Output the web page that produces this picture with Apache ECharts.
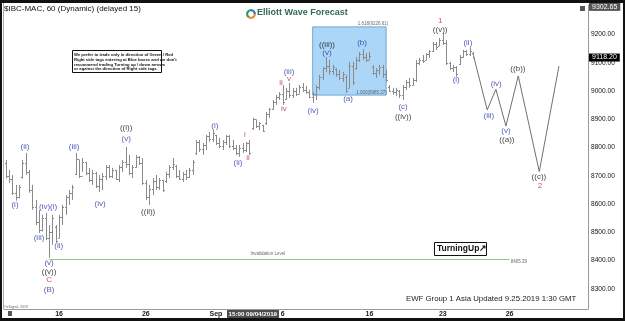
<!DOCTYPE html>
<html>
<head>
<meta charset="utf-8">
<script src="https://cdn.jsdelivr.net/npm/echarts@6/dist/echarts.min.js"></script>
<style>
html, body { margin: 0; padding: 0; background: #fff; }
#chart { width: 625px; height: 321px; }
</style>
</head>
<body>
<div id="chart"></div>
<script>
// hourly bars, index 0 = first bar on the left
const opens = [8745, 8700, 8690, 8640, 8625, 8695, 8745, 8715, 8650, 8590, 8535, 8510, 8550, 8480, 8500, 8520, 8480, 8555, 8590, 8625,
  8640, 8705, 8760, 8700, 8750, 8710, 8685, 8710, 8665, 8690, 8700, 8730, 8700, 8720, 8690, 8730, 8750, 8740, 8710, 8730,
  8765, 8745, 8675, 8625, 8655, 8680, 8660, 8685, 8680, 8705, 8730, 8735, 8700, 8690, 8705, 8695, 8720, 8780, 8820, 8795,
  8810, 8840, 8830, 8845, 8815, 8805, 8820, 8840, 8805, 8800, 8780, 8800, 8790, 8815, 8870, 8900, 8875, 8880, 8885, 8920,
  8935, 8960, 8980, 8990, 8970, 9000, 8985, 9000, 8990, 9015, 9005, 8995, 8980, 8990, 9015, 9050, 9080, 9090, 9070, 9078,
  9060, 9045, 9050, 9010, 9090, 9080, 9110, 9130, 9120, 9110, 9085, 9065, 9075, 9085, 9060, 9015, 9000, 8995, 9000, 8985,
  9015, 9030, 9020, 9040, 9100, 9110, 9110, 9130, 9140, 9165, 9160, 9180, 9170, 9100, 9080, 9085, 9095, 9120, 9140, 9130, 9135]
const highs = [8756, 8721, 8703, 8668, 8668, 8756, 8781, 8721, 8668, 8615, 8579, 8562, 8569, 8526, 8562, 8526, 8562, 8597, 8632, 8650,
  8668, 8781, 8756, 8763, 8749, 8728, 8721, 8714, 8703, 8710, 8738, 8738, 8728, 8721, 8738, 8756, 8802, 8774, 8738, 8774,
  8770, 8763, 8685, 8668, 8692, 8703, 8692, 8685, 8714, 8738, 8763, 8738, 8721, 8714, 8721, 8728, 8756, 8827, 8827, 8816,
  8845, 8855, 8862, 8845, 8834, 8827, 8845, 8845, 8827, 8809, 8809, 8816, 8820, 8827, 8905, 8898, 8890, 8880, 8926, 8940,
  8968, 8986, 8996, 9021, 9011, 9028, 9011, 9011, 9021, 9028, 9018, 9004, 8996, 9021, 9057, 9085, 9120, 9110, 9092, 9081,
  9074, 9067, 9057, 9103, 9103, 9120, 9138, 9148, 9134, 9138, 9092, 9081, 9092, 9092, 9074, 9021, 9011, 9011, 9004, 9021,
  9039, 9046, 9046, 9110, 9117, 9127, 9134, 9145, 9173, 9173, 9187, 9205, 9180, 9103, 9092, 9088, 9127, 9145, 9145, 9155, 9138]
const lows = [8690, 8675, 8632, 8612, 8620, 8690, 8703, 8640, 8580, 8526, 8498, 8503, 8473, 8410, 8456, 8463, 8480, 8526, 8562, 8597,
  8615, 8703, 8692, 8714, 8703, 8678, 8668, 8657, 8643, 8650, 8685, 8692, 8692, 8685, 8678, 8714, 8728, 8703, 8692, 8728,
  8738, 8668, 8615, 8597, 8632, 8650, 8650, 8643, 8675, 8692, 8721, 8692, 8685, 8678, 8685, 8692, 8703, 8774, 8784, 8774,
  8791, 8820, 8820, 8809, 8798, 8791, 8809, 8798, 8791, 8774, 8767, 8781, 8784, 8774, 8862, 8869, 8862, 8855, 8880, 8905,
  8933, 8951, 8968, 8951, 8968, 8975, 8975, 8982, 8990, 8996, 8990, 8975, 8958, 8968, 9004, 9039, 9067, 9057, 9057, 9050,
  9039, 9032, 8993, 9010, 9021, 9074, 9103, 9110, 9103, 9110, 9057, 9046, 9057, 9046, 9032, 8996, 8986, 8982, 8975, 8968,
  9004, 9011, 9018, 9032, 9092, 9099, 9110, 9117, 9138, 9145, 9159, 9163, 9092, 9074, 9067, 9050, 9092, 9117, 9124, 9124, 9117]
const closes = [8700, 8690, 8640, 8625, 8660, 8745, 8715, 8650, 8590, 8535, 8510, 8550, 8480, 8500, 8550, 8470, 8555, 8590, 8625, 8640,
  8660, 8760, 8700, 8750, 8710, 8685, 8710, 8665, 8690, 8700, 8730, 8700, 8720, 8690, 8730, 8750, 8740, 8710, 8730, 8765,
  8745, 8675, 8625, 8655, 8680, 8660, 8685, 8650, 8705, 8730, 8740, 8700, 8690, 8705, 8695, 8720, 8750, 8820, 8795, 8810,
  8840, 8830, 8850, 8815, 8805, 8820, 8840, 8805, 8800, 8780, 8800, 8790, 8815, 8780, 8900, 8875, 8885, 8860, 8920, 8935,
  8960, 8980, 8990, 8960, 9000, 8985, 9000, 8990, 9015, 9005, 8995, 8980, 8990, 9015, 9050, 9080, 9090, 9070, 9085, 9060,
  9045, 9060, 9000, 9090, 9030, 9110, 9130, 9120, 9110, 9125, 9065, 9075, 9085, 9060, 9040, 9000, 8995, 9005, 8985, 9015,
  9030, 9020, 9040, 9100, 9110, 9105, 9130, 9140, 9165, 9155, 9180, 9170, 9100, 9080, 9085, 9060, 9120, 9140, 9130, 9140, 9118.2]

const tickIdx = [16, 42, 63, 83, 109, 131, 151]
const tickText = ['16', '26', 'Sep', '6', '16', '23', '26']
const priceTicks = [8300, 8400, 8500, 8600, 8700, 8800, 8900, 9000, 9100, 9200]

// projected path after the last bar
const pathIdx = [140, 144.3, 146.9, 149.9, 153.6, 159.9, 165.8]
const pathVal = [9134, 8933, 9006, 8876, 9053, 8715, 9088]

const invalidation = 8405.39
const lastPrice = 9118.20
const axisHigh = 9302.65
const boxLow = 8985.37
const boxHigh = 9226.61

const BLUE = '#2633a8', RED = '#c4262a', BLACK = '#111'
const waveLabels = [
  [2.8, 8597, '(i)', BLUE], [5.8, 8802, '(ii)', BLUE], [10.0, 8480, '(iii)', BLUE],
  [12.7, 8590, '(iv)(i)', BLUE], [15.9, 8452, '(ii)', BLUE], [13.0, 8392, '(v)', BLUE],
  [13.0, 8362, '((v))', BLACK], [13.0, 8331, 'C', RED], [13.0, 8298, '(B)', BLUE],
  [20.5, 8802, '(iii)', BLUE], [28.3, 8601, '(iv)', BLUE], [36.1, 8869, '((i))', BLACK],
  [36.1, 8832, '(v)', BLUE], [42.7, 8572, '((ii))', BLACK], [62.7, 8876, '(i)', BLUE],
  [69.6, 8746, '(ii)', BLUE], [71.7, 8845, 'i', RED], [72.6, 8763, 'ii', RED],
  [82.5, 9028, 'ii', RED], [84.9, 9042, 'v', RED], [84.9, 9067, '(iii)', BLUE],
  [83.4, 8936, 'iv', RED], [92.1, 8929, '(iv)', BLUE], [96.3, 9163, '((iii))', BLACK],
  [96.3, 9134, '(v)', BLUE], [102.6, 8972, '(a)', BLUE], [106.8, 9170, '(b)', BLUE],
  [119.1, 8943, '(c)', BLUE], [119.1, 8908, '((iv))', BLACK], [130.2, 9247, '1', RED],
  [130.2, 9216, '((v))', BLACK], [135.0, 9039, '(i)', BLUE], [138.5, 9170, '(ii)', BLUE],
  [144.8, 8912, '(iii)', BLUE], [147.0, 9025, '(iv)', BLUE], [149.9, 8859, '(v)', BLUE],
  [150.2, 8827, '((a))', BLACK], [153.5, 9078, '((b))', BLACK], [159.8, 8696, '((c))', BLACK],
  [160.1, 8664, '2', RED]
]
const smallNotes = [
  [110.1, 9237, '1.618(9226.61)'], [109.6, 8993, '1.000(8985.37)'],
  [78.6, 8424, 'Invalidation Level'], [153.8, 8396, '8405.39']
]

const bars = opens.map((o, i) => [i, o, highs[i], lows[i], closes[i]])

const chart = echarts.init(document.getElementById('chart'))
window.addEventListener('resize', () => chart.resize())

const renderBar = (params, api) => {
  const i = api.value(0)
  const h = api.coord([i, api.value(2)])
  const l = api.coord([i, api.value(3)])
  const o = api.coord([i, api.value(1)])
  const c = api.coord([i, api.value(4)])
  const px = Math.round(h[0]) + 0.5
  const style = { stroke: '#8a8a8a', lineWidth: 1 }
  return {
    type: 'group',
    children: [
      { type: 'line', shape: { x1: px, y1: h[1], x2: px, y2: l[1] }, style },
      { type: 'line', shape: { x1: px - 1.5, y1: Math.round(o[1]) + 0.5, x2: px, y2: Math.round(o[1]) + 0.5 }, style },
      { type: 'line', shape: { x1: px, y1: Math.round(c[1]) + 0.5, x2: px + 1.5, y2: Math.round(c[1]) + 0.5 }, style }
    ]
  }
}

const priceTag = (value, bg, dy) => ({
  yAxis: value,
  lineStyle: { color: 'rgba(0,0,0,0)', width: 0 },
  label: {
    show: true, position: 'end', distance: 1, offset: [0, dy], formatter: value.toFixed(2),
    color: '#fff', backgroundColor: bg, padding: [1, 3, 0, 3], fontSize: 7, fontFamily: 'Arial'
  }
})

chart.setOption({
  animation: false,
  backgroundColor: '#fff',
  grid: { left: 4, right: 37, top: 5, bottom: 12 },
  xAxis: {
    type: 'value', min: -0.5, max: 174.5,
    axisLine: { show: true, onZero: false, lineStyle: { color: '#9a9a9a' } },
    axisTick: { show: false },
    splitLine: { show: false },
    axisLabel: {
      customValues: tickIdx, margin: 2, fontSize: 7, fontWeight: 'bold', color: '#222', fontFamily: 'Arial',
      formatter: v => tickText[tickIdx.indexOf(v)]
    }
  },
  yAxis: {
    type: 'value', position: 'right', min: 8229, max: 9304,
    axisLine: { show: true, onZero: false, lineStyle: { color: '#9a9a9a' } },
    axisTick: { show: false },
    splitLine: { show: false },
    axisLabel: {
      customValues: priceTicks, margin: 3, fontSize: 6.6, color: '#111', fontFamily: 'Arial',
      formatter: v => v.toFixed(2)
    }
  },
  series: [
    {
      name: 'projection',
      type: 'line',
      z: 1,
      symbol: 'none',
      clip: false,
      data: pathIdx.map((x, i) => [x, pathVal[i]]),
      lineStyle: { color: '#707070', width: 1 },
      markArea: {
        silent: true,
        itemStyle: { color: '#abd6f7', borderColor: '#6aa8da', borderWidth: 1 },
        data: [[{ coord: [92, boxLow] }, { coord: [114, boxHigh] }]]
      },
      markLine: {
        silent: true,
        symbol: 'none',
        data: [
          [{ coord: [13, invalidation], lineStyle: { color: '#86c986', width: 1, type: 'solid' }, label: { show: false } },
           { coord: [151, invalidation] }],
          priceTag(lastPrice, '#000', 0),
          priceTag(axisHigh, '#555', 1.5)
        ]
      }
    },
    {
      name: 'bars',
      type: 'custom',
      z: 3,
      renderItem: renderBar,
      encode: { x: 0, y: [1, 2, 3, 4] },
      data: bars
    },
    {
      name: 'waves',
      type: 'scatter',
      z: 4,
      symbolSize: 0,
      data: waveLabels.map(d => ({
        value: [d[0], d[1]],
        label: { show: true, position: 'inside', formatter: d[2], color: d[3], fontSize: 8, fontFamily: 'Arial' }
      }))
    },
    {
      name: 'notes',
      type: 'scatter',
      z: 4,
      symbolSize: 0,
      data: smallNotes.map(d => ({
        value: [d[0], d[1]],
        label: { show: true, position: 'inside', formatter: d[2], color: '#444', fontSize: 4.5, fontFamily: 'Arial' }
      }))
    }
  ],
  graphic: [
    { type: 'rect', shape: { x: 0, y: 0, width: 625, height: 3 }, style: { fill: '#111' }, z: 100 },
    { type: 'rect', shape: { x: 0, y: 318, width: 625, height: 3 }, style: { fill: '#111' }, z: 100 },
    { type: 'rect', shape: { x: 0, y: 0, width: 2, height: 321 }, style: { fill: '#111' }, z: 100 },
    { type: 'rect', shape: { x: 623, y: 0, width: 2, height: 321 }, style: { fill: '#111' }, z: 100 },
    { type: 'rect', shape: { x: 3, y: 3, width: 1, height: 306 }, style: { fill: '#aaa' } },
    { type: 'text', left: 4, top: 4.5, style: { text: '$IBC-MAC, 60 (Dynamic) (delayed 15)', fontSize: 8, fill: '#111', fontFamily: 'Arial' } },
    // logo
    { type: 'arc', shape: { cx: 251, cy: 14, r: 3.8, startAngle: 0, endAngle: 2.2 }, style: { stroke: '#f08a24', lineWidth: 2.2, fill: null } },
    { type: 'arc', shape: { cx: 251, cy: 14, r: 3.8, startAngle: 2.2, endAngle: 4.3 }, style: { stroke: '#2c9a4a', lineWidth: 2.2, fill: null } },
    { type: 'arc', shape: { cx: 251, cy: 14, r: 3.8, startAngle: 4.3, endAngle: 6.28 }, style: { stroke: '#2a7fc0', lineWidth: 2.2, fill: null } },
    { type: 'text', left: 257, top: 8.5, style: { text: 'Elliott Wave Forecast', fontSize: 9, fontWeight: 'bold', fill: '#2f6a52', fontFamily: 'Arial' } },
    // trading note
    { type: 'rect', shape: { x: 72.5, y: 50.5, width: 89, height: 22 }, style: { fill: '#fff', stroke: '#111', lineWidth: 1 } },
    { type: 'text', left: 74, top: 52.5, style: {
      text: 'We prefer to trade only in direction of Green / Red\nRight side tags entering at Blue boxes and we don\'t\nrecommend trading Turning up / down arrows\nor against the direction of Right side tags.',
      fontSize: 4.2, lineHeight: 4.8, fontWeight: 'bold', fill: '#111', fontFamily: 'Arial' } },
    // turning up box
    { type: 'rect', shape: { x: 434.5, y: 242.5, width: 52, height: 13 }, style: { fill: '#fff', stroke: '#111', lineWidth: 1 } },
    { type: 'text', left: 437, top: 244, style: { text: 'TurningUp\u2197', fontSize: 8.5, fontWeight: 'bold', fill: '#111', fontFamily: 'Arial' } },
    { type: 'text', left: 406, top: 295, style: { text: 'EWF Group 1 Asia Updated 9.25.2019 1:30 GMT', fontSize: 7.8, fill: '#222', fontFamily: 'Arial' } },
    { type: 'text', left: 4, top: 305, style: { text: '\u00a9eSignal, 2019', fontSize: 3.5, fill: '#666', fontFamily: 'Arial' } },
    // crosshair date tag
    { type: 'rect', shape: { x: 227, y: 310, width: 52, height: 8 }, style: { fill: '#4d4d4d' }, z: 50 },
    { type: 'text', left: 228.5, top: 310.8, z: 51, style: { text: '15:00 09/04/2019', fontSize: 6.2, fontWeight: 'bold', fill: '#fff', fontFamily: 'Arial' } },
    { type: 'rect', shape: { x: 8, y: 311, width: 4, height: 5 }, style: { fill: '#555' } },
    { type: 'rect', shape: { x: 580, y: 6, width: 5, height: 5 }, style: { fill: '#555' } }
  ]
})
</script>
</body>
</html>
